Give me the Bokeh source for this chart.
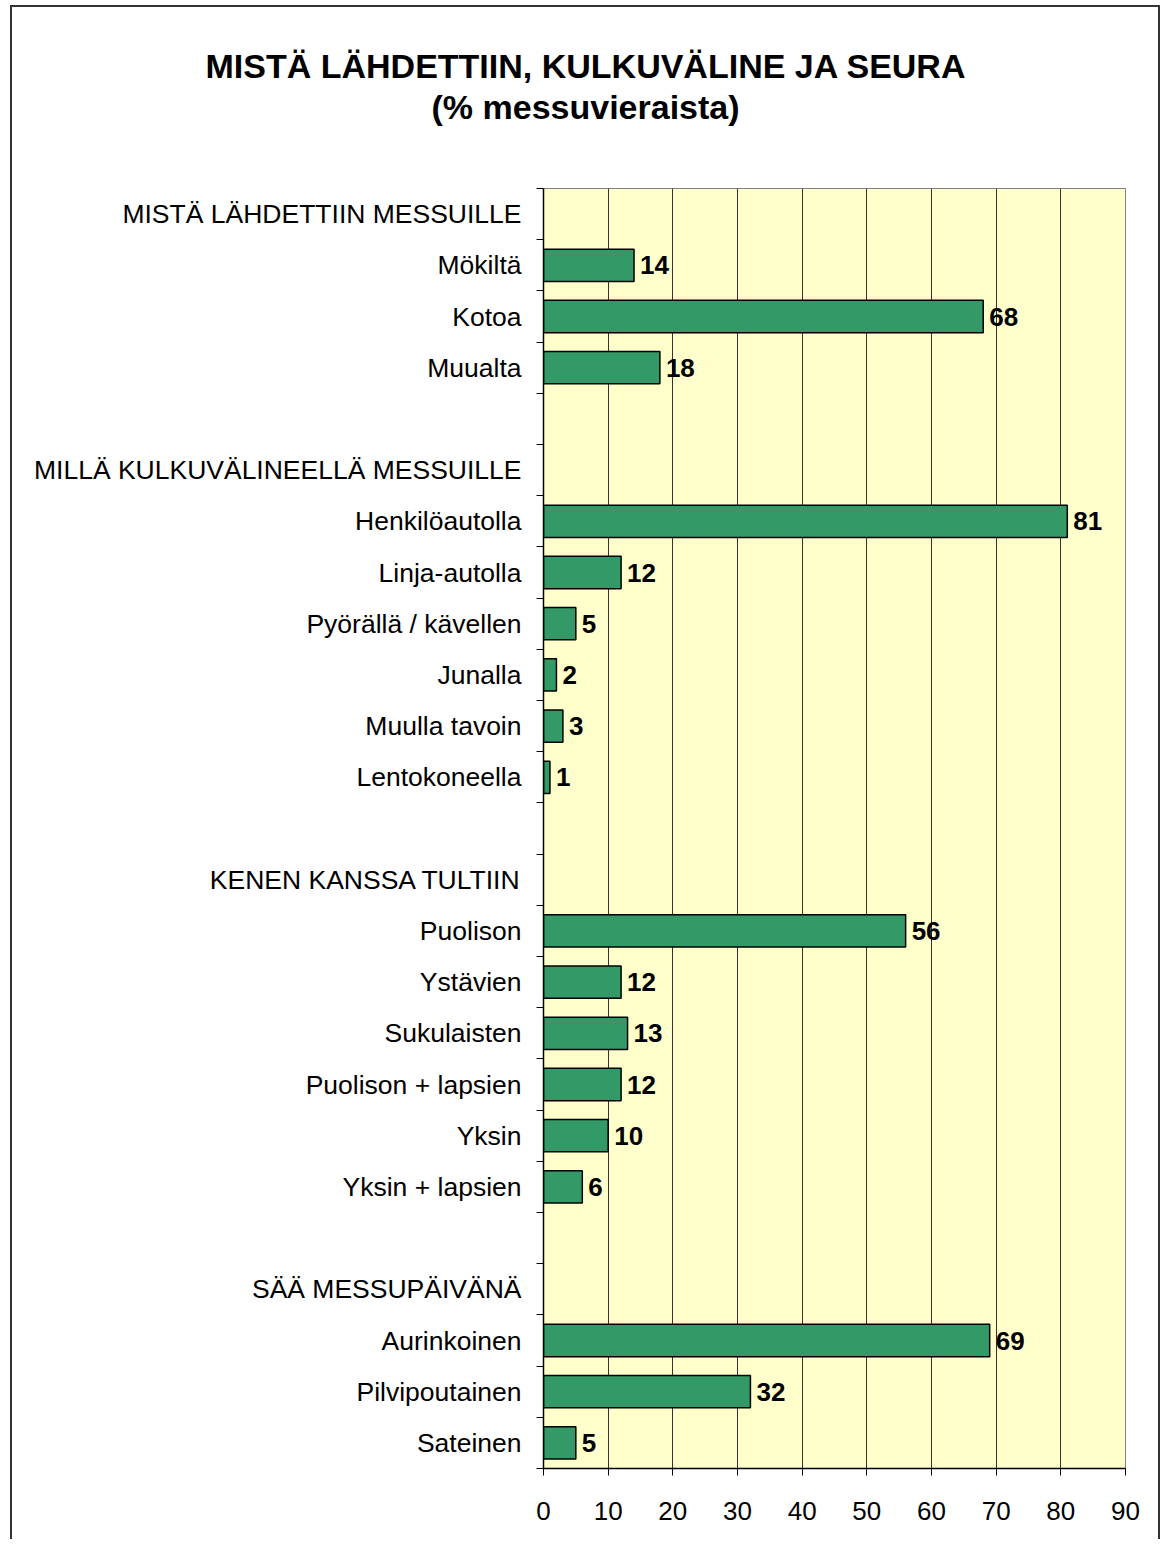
from bokeh.plotting import figure
from bokeh.models import Range1d, FixedTicker, Title, ColumnDataSource
from bokeh.embed import file_html
from bokeh.resources import INLINE
from bokeh.core.properties import value

title_line1 = "MISTÄ LÄHDETTIIN, KULKUVÄLINE JA SEURA"
title_line2 = "(% messuvieraista)"

categories = [
    "MISTÄ LÄHDETTIIN MESSUILLE", "Mökiltä", "Kotoa", "Muualta", "",
    "MILLÄ KULKUVÄLINEELLÄ MESSUILLE", "Henkilöautolla", "Linja-autolla",
    "Pyörällä / kävellen", "Junalla", "Muulla tavoin", "Lentokoneella", "",
    "KENEN KANSSA TULTIIN", "Puolison", "Ystävien", "Sukulaisten",
    "Puolison + lapsien", "Yksin", "Yksin + lapsien", "",
    "SÄÄ MESSUPÄIVÄNÄ", "Aurinkoinen", "Pilvipoutainen", "Sateinen",
]
values = [
    None, 14, 68, 18, None,
    None, 81, 12, 5, 2, 3, 1, None,
    None, 56, 12, 13, 12, 10, 6, None,
    None, 69, 32, 5,
]
x_ticks = [0, 10, 20, 30, 40, 50, 60, 70, 80, 90]

FONT = "Liberation Sans"
n = len(categories)

ys = [i for i, v in enumerate(values) if v is not None]
vs = [v for v in values if v is not None]
src = ColumnDataSource(dict(y=ys, v=vs, t=[str(v) for v in vs]))

p = figure(width=1150, height=1534, output_backend="svg", toolbar_location=None,
           x_range=Range1d(0, 90), y_range=Range1d(n - 0.5, -0.5),
           min_border_left=531, min_border_right=37, min_border_top=181,
           min_border_bottom=73)
p.title.text = ""
p.styles = {"border-left": "2px solid #333333", "border-top": "2px solid #333333",
            "border-right": "2px solid #333333",
            "margin-left": "10px", "margin-top": "5px"}

p.background_fill_color = "#FFFFCC"
p.border_fill_color = "white"
p.outline_line_color = "#808080"
p.outline_line_width = 1

p.add_layout(Title(text=title_line2, align="left", offset=-112, text_font=FONT,
                   text_font_size="34px", text_font_style="bold",
                   text_color="black", standoff=125), "above")
p.add_layout(Title(text=title_line1, align="left", offset=-338, text_font=FONT,
                   text_font_size="34px", text_font_style="bold",
                   text_color="black", standoff=-123), "above")

p.hbar(y="y", right="v", left=0, height=0.63, source=src,
       fill_color="#339966", line_color="black", line_width=1.5)
p.text(x="v", y="y", text="t", source=src, x_offset=6,
       text_baseline="middle", text_align="left", text_font=value(FONT),
       text_font_size="26px", text_font_style="bold", text_color="black")

# y axis
ya = p.yaxis[0]
ya.ticker = FixedTicker(ticks=list(range(n)), minor_ticks=[i - 0.5 for i in range(n + 1)])
ya.major_label_overrides = {i: c for i, c in enumerate(categories)}
ya.major_tick_out = 0
ya.major_tick_in = 0
ya.minor_tick_out = 7
ya.minor_tick_in = 0
ya.minor_tick_line_color = "black"
ya.axis_line_color = "black"
ya.axis_line_width = 1.5
ya.major_label_text_font = FONT
ya.major_label_text_font_size = "26.5px"
ya.major_label_text_color = "black"
ya.major_label_standoff = 15

# x axis
xa = p.xaxis[0]
xa.ticker = FixedTicker(ticks=x_ticks, minor_ticks=[])
xa.major_tick_out = 7
xa.major_tick_in = 0
xa.major_tick_line_color = "black"
xa.axis_line_color = "black"
xa.axis_line_width = 1.5
xa.major_label_text_font = FONT
xa.major_label_text_font_size = "26px"
xa.major_label_text_color = "black"
xa.major_label_standoff = 26

p.xgrid.ticker = FixedTicker(ticks=x_ticks)
p.xgrid.grid_line_color = "#333333"
p.xgrid.grid_line_width = 1
p.ygrid.grid_line_color = None

open("out.html", "w").write(file_html(p, INLINE))
